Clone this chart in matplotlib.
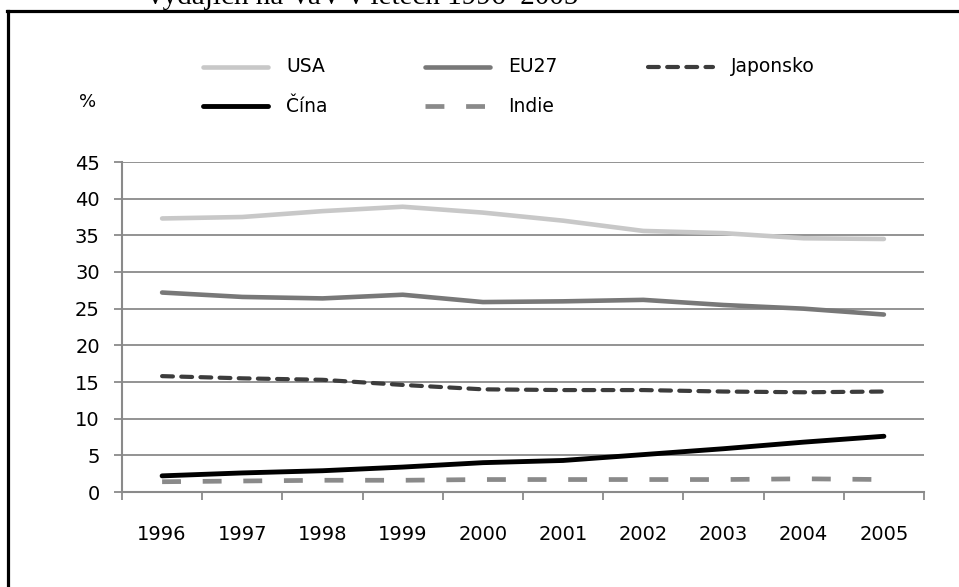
import matplotlib
matplotlib.use("Agg")
import matplotlib.pyplot as plt
from matplotlib.lines import Line2D

years = ["1996", "1997", "1998", "1999", "2000", "2001", "2002", "2003", "2004", "2005"]
usa = [37.3, 37.5, 38.3, 38.9, 38.1, 37.0, 35.6, 35.3, 34.6, 34.5]
eu27 = [27.2, 26.6, 26.4, 26.9, 25.9, 26.0, 26.2, 25.5, 25.0, 24.2]
japonsko = [15.8, 15.5, 15.3, 14.6, 14.0, 13.9, 13.9, 13.7, 13.6, 13.7]
cina = [2.2, 2.6, 2.9, 3.4, 4.0, 4.3, 5.1, 5.9, 6.8, 7.6]
indie = [1.4, 1.5, 1.6, 1.6, 1.7, 1.7, 1.7, 1.7, 1.8, 1.7]
yticks = [0, 5, 10, 15, 20, 25, 30, 35, 40, 45]
title_fragment = "výdajích na VaV v letech 1996–2005"

W, H = 959, 587
fig = plt.figure(figsize=(W / 100, H / 100), dpi=100)
FONT = "DejaVu Sans"

def fx(px):
    return px / W

def fy(py):
    return 1 - py / H

ax = fig.add_axes([fx(122), fy(492), fx(924) - fx(122), fy(162) - fy(492)])

styles = {
    "USA": dict(color="#c8c8c8", lw=3.3, ls="-", solid_capstyle="round"),
    "EU27": dict(color="#787878", lw=3.3, ls="-", solid_capstyle="round"),
    "Japonsko": dict(color="#3c3c3c", lw=3.0, ls=(0, (2.6, 2.0)), dash_capstyle="round"),
    "Čína": dict(color="#000000", lw=3.5, ls="-", solid_capstyle="round"),
    "Indie": dict(color="#8a8a8a", lw=3.4, ls=(0, (4.0, 4.6)), dash_capstyle="butt"),
}
series = {"USA": usa, "EU27": eu27, "Japonsko": japonsko, "Čína": cina, "Indie": indie}

x = list(range(len(years)))
for name in ["USA", "EU27", "Japonsko", "Indie", "Čína"]:
    ax.plot(x, series[name], **styles[name], zorder=3)

ax.set_xlim(-0.5, len(years) - 0.5)
ax.set_ylim(0, 45)
ax.set_yticks(yticks)
ax.set_yticklabels([str(v) for v in yticks])
ax.set_xticks(x)
ax.set_xticklabels(years)
ax.set_xticks([i - 0.5 for i in range(len(years) + 1)], minor=True)

grid_c = "#8a8a8a"
for v in yticks[1:]:
    ax.axhline(v, color=grid_c, lw=1.3, zorder=1)
for s in ["top", "right"]:
    ax.spines[s].set_visible(False)
for s in ["left", "bottom"]:
    ax.spines[s].set_color(grid_c)
    ax.spines[s].set_linewidth(1.5)

ax.tick_params(axis="y", length=6, width=1.3, color=grid_c, pad=10,
               labelsize=14, labelcolor="#000000")
ax.tick_params(axis="x", which="major", length=0, pad=24, labelsize=14)
ax.tick_params(axis="x", which="minor", length=6, width=1.3, color=grid_c)
for lab in ax.get_xticklabels() + ax.get_yticklabels():
    lab.set_fontfamily(FONT)

# percent label
fig.text(fx(88), fy(102), "%", fontsize=13, family=FONT, ha="center", va="center")

# legend (manual placement)
legend_layout = [("USA", 0, 0), ("EU27", 1, 0), ("Japonsko", 2, 0), ("Čína", 0, 1), ("Indie", 1, 1)]
col_x = [203, 425, 648]
row_y = [67, 106]
for name, c, r in legend_layout:
    x0 = col_x[c]
    yy = row_y[r]
    st = dict(styles[name])
    fig.add_artist(Line2D([fx(x0), fx(x0 + 65)], [fy(yy), fy(yy)], transform=fig.transFigure, **st))
    fig.text(fx(x0 + 83), fy(yy), name, fontsize=13.5, family=FONT, ha="left", va="center")

# frame
fig.add_artist(Line2D([fx(7), fx(957)], [fy(10.5), fy(10.5)], transform=fig.transFigure, color="black", lw=2.3))
fig.add_artist(Line2D([fx(8), fx(8)], [fy(10.5), fy(600)], transform=fig.transFigure, color="black", lw=2.3))

# cut-off title fragment (the reference shows only its lower part)
fig.text(fx(148), fy(4), title_fragment, fontsize=21, family="Liberation Serif", ha="left", va="baseline")

fig.savefig("out.png", dpi=100)
